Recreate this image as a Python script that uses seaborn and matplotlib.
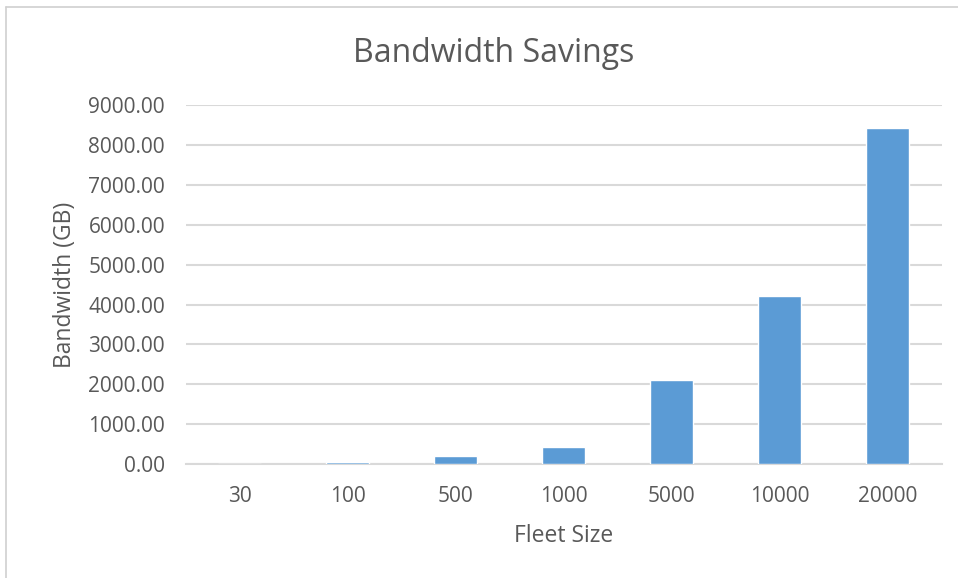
import matplotlib
matplotlib.use("Agg")
import matplotlib.pyplot as plt
from matplotlib.lines import Line2D
import seaborn as sns
import pandas as pd

fleet_sizes = ["30", "100", "500", "1000", "5000", "10000", "20000"]
bandwidth_gb = [12.63, 42.1, 210.5, 421.0, 2105.0, 4210.0, 8420.0]
y_ticks = [0, 1000, 2000, 3000, 4000, 5000, 6000, 7000, 8000, 9000]

df = pd.DataFrame({"Fleet Size": fleet_sizes, "Bandwidth": bandwidth_gb})

sns.set_style("white")
plt.rcParams["font.family"] = ["Open Sans", "DejaVu Sans"]
text_col = "#595959"
grid_col = "#D9D9D9"

fig = plt.figure(figsize=(9.58, 5.78), dpi=100)
ax = fig.add_axes([0.194, 0.197, 0.789, 0.621])

sns.barplot(data=df, x="Fleet Size", y="Bandwidth", order=fleet_sizes,
            color="#5B9BD5", saturation=1, width=0.4, ax=ax, zorder=3)

ax.set_ylim(0, 9000)
ax.set_yticks(y_ticks)
ax.set_yticklabels(["{:.2f}".format(v) for v in y_ticks])
ax.yaxis.grid(True, color=grid_col, linewidth=1.5, zorder=0)
ax.set_axisbelow(True)
for s in ["top", "right", "left"]:
    ax.spines[s].set_visible(False)
ax.spines["bottom"].set_color(grid_col)
ax.spines["bottom"].set_linewidth(1.5)
ax.tick_params(axis="both", length=0, labelsize=15, colors=text_col)
ax.tick_params(axis="x", pad=16)
ax.tick_params(axis="y", pad=15)

fig.text(494 / 958, 1 - 62 / 578, "Bandwidth Savings", fontsize=23, color=text_col,
         ha="center", va="baseline")
ax.set_xlabel("Fleet Size", fontsize=16.5, color=text_col, labelpad=12)
ax.set_ylabel("Bandwidth (GB)", fontsize=16.5, color=text_col, labelpad=8)

# chart frame (top and left edges visible in the crop)
fig.add_artist(Line2D([6 / 958, 1], [1 - 7 / 578, 1 - 7 / 578], color="#D0D0D0", linewidth=1.2))
fig.add_artist(Line2D([6 / 958, 6 / 958], [0, 1 - 7 / 578], color="#D0D0D0", linewidth=1.2))

fig.savefig("out.png", dpi=100)
